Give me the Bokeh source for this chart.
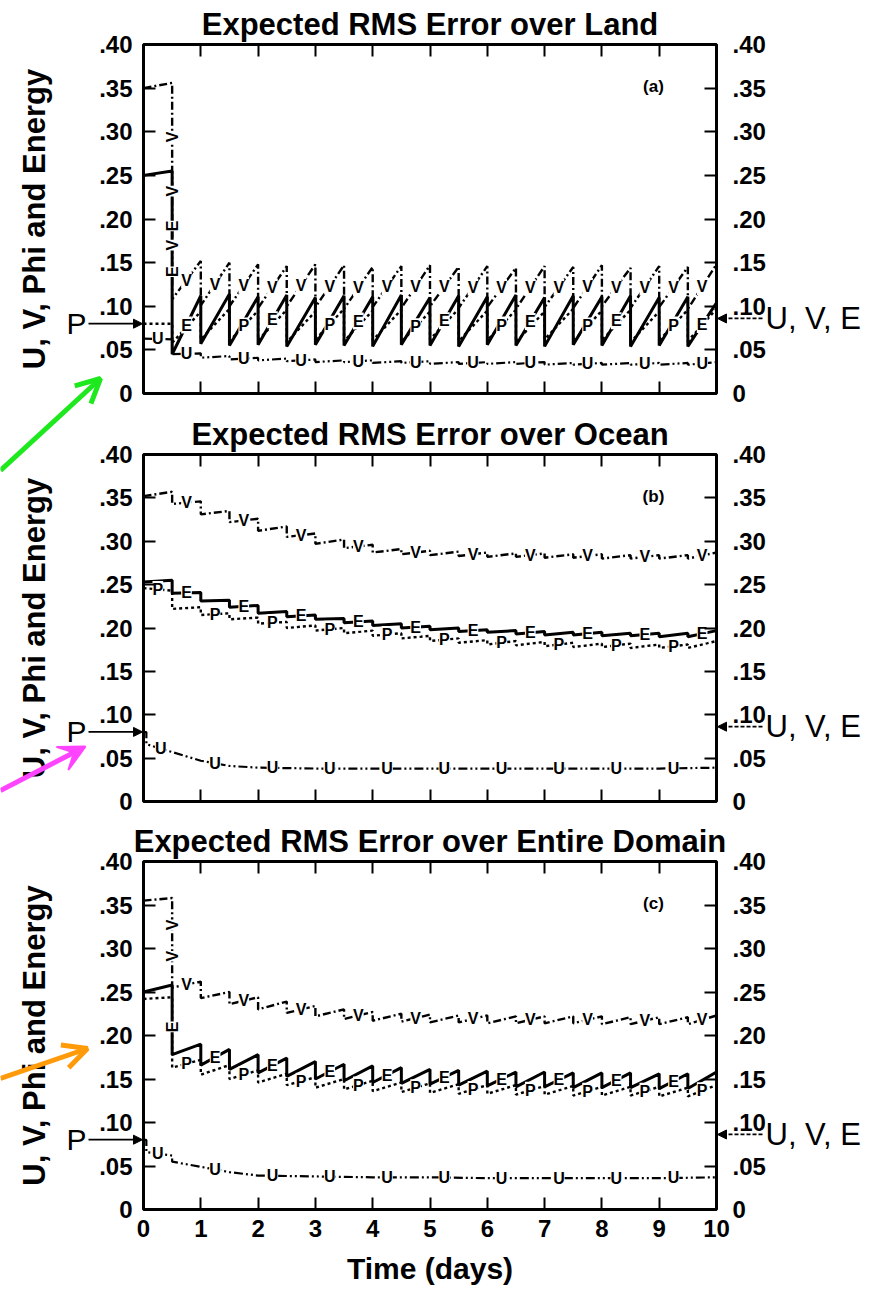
import numpy as np
from bokeh.plotting import figure
from bokeh.models import (Range1d, LinearAxis, FixedTicker, CustomJSTickFormatter,
                          Label, Arrow, NormalHead, OpenHead, VeeHead)
from bokeh.layouts import column
from bokeh.embed import file_html
from bokeh.resources import INLINE
from bokeh.core.properties import value

FONT = "Liberation Sans"

# ---------------- data ----------------
UPDATE_DAYS = [0.5, 1.0, 1.5, 2.0, 2.5, 3.0, 3.5, 4.0, 4.5, 5.0,
               5.5, 6.0, 6.5, 7.0, 7.5, 8.0, 8.5, 9.0, 9.5, 10.0]
X_TICKS = [0, 1, 2, 3, 4, 5, 6, 7, 8, 9, 10]
Y_TICKS = [0.0, 0.05, 0.10, 0.15, 0.20, 0.25, 0.30, 0.35, 0.40]
Y_MAX = 0.40

P_ARROW_LEVEL = 0.080     # "P" marker on left axis
UVE_ARROW_LEVEL = 0.086   # "U, V, E" marker on right axis

# (a) Land
LAND_V_START = 0.350
LAND_V_BEFORE = [0.356, 0.152, 0.150, 0.148, 0.146, 0.148, 0.147, 0.145, 0.146, 0.147,
                 0.145, 0.146, 0.144, 0.146, 0.145, 0.147, 0.144, 0.146, 0.145, 0.148]
LAND_V_AFTER = [0.108, 0.101, 0.100, 0.098, 0.100, 0.099, 0.097, 0.099, 0.098, 0.100,
                0.098, 0.099, 0.097, 0.099, 0.098, 0.100, 0.098, 0.099, 0.097]
LAND_E_START = 0.250
LAND_E_BEFORE = [0.255, 0.112, 0.114, 0.111, 0.113, 0.110, 0.112, 0.111, 0.113, 0.110,
                 0.112, 0.111, 0.113, 0.110, 0.112, 0.111, 0.112, 0.110, 0.111, 0.104]
LAND_E_AFTER = [0.045, 0.057, 0.055, 0.056, 0.054, 0.056, 0.055, 0.054, 0.056, 0.055,
                0.054, 0.056, 0.055, 0.054, 0.056, 0.055, 0.054, 0.055, 0.054]
LAND_P_START = 0.080
LAND_P_BEFORE = [0.080, 0.094, 0.097, 0.095, 0.096, 0.094, 0.097, 0.095, 0.096, 0.094,
                 0.097, 0.095, 0.096, 0.094, 0.097, 0.095, 0.096, 0.094, 0.096, 0.097]
LAND_P_AFTER = [0.058, 0.062, 0.060, 0.061, 0.059, 0.062, 0.060, 0.061, 0.059, 0.062,
                0.060, 0.061, 0.059, 0.062, 0.060, 0.061, 0.059, 0.061, 0.060]
LAND_U_START = 0.063
LAND_U_BEFORE = [0.062, 0.046, 0.043, 0.041, 0.040, 0.039, 0.038, 0.038, 0.037, 0.037,
                 0.036, 0.036, 0.036, 0.036, 0.035, 0.035, 0.035, 0.035, 0.035, 0.036]
LAND_U_AFTER = [0.045, 0.041, 0.039, 0.038, 0.037, 0.036, 0.036, 0.035, 0.035, 0.034,
                0.034, 0.034, 0.034, 0.033, 0.033, 0.033, 0.033, 0.033, 0.033]

# (b) Ocean
OCEAN_V_START = 0.352
OCEAN_V_BEFORE = [0.357, 0.346, 0.335, 0.326, 0.317, 0.309, 0.302, 0.296, 0.291, 0.289,
                  0.288, 0.287, 0.286, 0.286, 0.285, 0.285, 0.284, 0.284, 0.284, 0.287]
OCEAN_V_AFTER = [0.343, 0.331, 0.322, 0.312, 0.305, 0.297, 0.292, 0.287, 0.285, 0.284,
                 0.283, 0.282, 0.282, 0.281, 0.281, 0.280, 0.280, 0.280, 0.280]
OCEAN_E_START = 0.253
OCEAN_E_BEFORE = [0.255, 0.241, 0.232, 0.226, 0.219, 0.215, 0.211, 0.208, 0.205, 0.202,
                  0.200, 0.198, 0.197, 0.196, 0.195, 0.195, 0.194, 0.194, 0.194, 0.197]
OCEAN_E_AFTER = [0.240, 0.231, 0.224, 0.217, 0.213, 0.210, 0.206, 0.203, 0.200, 0.198,
                 0.196, 0.195, 0.193, 0.192, 0.192, 0.191, 0.191, 0.190, 0.190]
OCEAN_P_START = 0.246
OCEAN_P_BEFORE = [0.243, 0.224, 0.217, 0.212, 0.207, 0.203, 0.200, 0.197, 0.194, 0.191,
                  0.188, 0.186, 0.185, 0.184, 0.183, 0.182, 0.182, 0.181, 0.181, 0.185]
OCEAN_P_AFTER = [0.222, 0.215, 0.210, 0.205, 0.200, 0.197, 0.194, 0.191, 0.188, 0.185,
                 0.183, 0.181, 0.180, 0.179, 0.178, 0.178, 0.177, 0.177, 0.177]
OCEAN_U_T = [0.0, 0.05, 0.05, 0.5, 1.0, 1.5, 2.0, 3.0, 4.0, 5.0, 6.0, 7.0, 8.0, 9.0, 10.0]
OCEAN_U_V = [0.080, 0.080, 0.066, 0.057, 0.047, 0.041, 0.039, 0.038, 0.038, 0.038,
             0.038, 0.038, 0.038, 0.038, 0.039]

# (c) Entire domain
DOMAIN_V_START = 0.355
DOMAIN_V_BEFORE = [0.358, 0.262, 0.250, 0.244, 0.239, 0.234, 0.230, 0.227, 0.225, 0.224,
                   0.223, 0.223, 0.222, 0.222, 0.222, 0.222, 0.221, 0.221, 0.221, 0.223]
DOMAIN_V_AFTER = [0.255, 0.243, 0.236, 0.230, 0.226, 0.222, 0.219, 0.217, 0.216, 0.215,
                  0.215, 0.214, 0.214, 0.214, 0.214, 0.213, 0.213, 0.213, 0.213]
DOMAIN_E_START = 0.250
DOMAIN_E_BEFORE = [0.258, 0.190, 0.184, 0.178, 0.174, 0.170, 0.167, 0.165, 0.163, 0.161,
                   0.160, 0.159, 0.158, 0.158, 0.157, 0.157, 0.157, 0.156, 0.156, 0.158]
DOMAIN_E_AFTER = [0.178, 0.166, 0.161, 0.157, 0.153, 0.150, 0.148, 0.146, 0.145, 0.144,
                  0.143, 0.142, 0.141, 0.141, 0.140, 0.140, 0.140, 0.139, 0.139]
DOMAIN_P_START = 0.242
DOMAIN_P_BEFORE = [0.244, 0.172, 0.166, 0.160, 0.156, 0.152, 0.150, 0.148, 0.146, 0.145,
                   0.144, 0.143, 0.143, 0.142, 0.142, 0.141, 0.141, 0.141, 0.140, 0.143]
DOMAIN_P_AFTER = [0.163, 0.155, 0.150, 0.146, 0.143, 0.140, 0.138, 0.136, 0.135, 0.134,
                  0.133, 0.133, 0.132, 0.132, 0.131, 0.131, 0.131, 0.130, 0.130]
DOMAIN_U_T = [0.0, 0.05, 0.05, 0.5, 0.5, 1.0, 1.5, 2.0, 3.0, 4.0, 5.0, 6.0, 7.0, 8.0, 9.0, 10.0]
DOMAIN_U_V = [0.080, 0.080, 0.066, 0.062, 0.055, 0.049, 0.043, 0.039, 0.038, 0.037,
              0.037, 0.036, 0.036, 0.036, 0.036, 0.037]

# ---------------- layout constants (pixels) ----------------
PAGE_W, PAGE_H = 894, 1293
FRAME_LEFT, FRAME_W = 143, 573
FIG_HEIGHTS = [412, 407, 474]
BORDER_TOPS = [44, 41, 41]
FRAME_HEIGHTS = [349, 348, 349]

# ---------------- helpers ----------------
def sawtooth(start, before, after):
    t, v = [0.0], [start]
    for i, day in enumerate(UPDATE_DAYS):
        t.append(day)
        v.append(before[i])
        if i < len(after):
            t.append(day)
            v.append(after[i])
    return t, v


MIDS = [(a + b) / 2 for a, b in zip(UPDATE_DAYS[:-1], UPDATE_DAYS[1:])]

STYLES = {
    "V": dict(line_dash="8 3 2 3", line_width=2.4),
    "E": dict(line_dash="solid", line_width=3.0),
    "P": dict(line_dash="3 3", line_width=2.4),
    "U": dict(line_dash="9 3 2 3 2 3", line_width=2.2),
}

YFMT = "return tick < 0.001 ? '0' : tick.toFixed(2).substring(1);"


def style_axis(ax, show_labels, standoff):
    ax.axis_line_color = None
    ax.major_tick_in = 12
    ax.major_tick_out = 0
    ax.major_tick_line_width = 2
    ax.major_tick_line_color = "black"
    ax.minor_tick_line_color = None
    ax.major_label_text_font = FONT
    ax.major_label_text_font_style = "bold"
    ax.major_label_standoff = standoff
    if show_labels:
        ax.major_label_text_font_size = "24px"
        ax.major_label_text_color = "black"
    else:
        ax.major_label_text_font_size = "1px"
        ax.major_label_text_color = None


def add_letters(p, t, v, times, letter):
    ys = np.interp(times, t, v)
    p.text(x=list(times), y=list(ys), text=[letter] * len(times),
           text_font=value(FONT), text_font_style="bold", text_font_size="16px",
           text_align="center", text_baseline="middle", text_color="black",
           background_fill_color="white")


def add_drop_letters(p, day, top, bottom, fracs, letter):
    ys = [top - f * (top - bottom) for f in fracs]
    p.text(x=[day] * len(ys), y=ys, text=[letter] * len(ys),
           text_font=value(FONT), text_font_style="bold", text_font_size="16px",
           text_align="center", text_baseline="middle", text_color="black",
           angle=np.pi / 2, background_fill_color="white")


def make_panel(idx, title, tag, curves, letters, x_labels):
    height = FIG_HEIGHTS[idx]
    top = BORDER_TOPS[idx]
    bottom = height - top - FRAME_HEIGHTS[idx]
    p = figure(width=PAGE_W, height=height, x_range=Range1d(0, 10), y_range=Range1d(0, Y_MAX),
               output_backend="svg", toolbar_location=None,
               min_border_left=FRAME_LEFT, min_border_right=PAGE_W - FRAME_LEFT - FRAME_W,
               min_border_top=top, min_border_bottom=bottom)
    p.xgrid.visible = False
    p.ygrid.visible = False
    p.outline_line_color = "black"
    p.outline_line_width = 3
    p.outline_line_alpha = 1.0
    p.background_fill_color = "white"
    p.border_fill_color = "white"

    p.title.text = title
    p.title.align = "center"
    p.title.text_font = FONT
    p.title.text_font_style = "bold"
    p.title.text_font_size = "31px"
    p.title.text_color = "black"
    p.title.standoff = 5

    # axes
    bx = p.below[0]
    bx.ticker = FixedTicker(ticks=X_TICKS)
    style_axis(bx, x_labels, 10)
    ly = p.left[0]
    ly.ticker = FixedTicker(ticks=Y_TICKS)
    ly.formatter = CustomJSTickFormatter(code=YFMT)
    style_axis(ly, True, 11)
    ly.axis_label = "U, V, Phi and Energy"
    ly.axis_label_text_font = FONT
    ly.axis_label_text_font_style = "bold"
    ly.axis_label_text_font_size = "31px"
    ly.axis_label_text_color = "black"
    ly.axis_label_standoff = 44
    ry = LinearAxis(ticker=FixedTicker(ticks=Y_TICKS), formatter=CustomJSTickFormatter(code=YFMT))
    style_axis(ry, True, 16)
    p.add_layout(ry, "right")
    tx = LinearAxis(ticker=FixedTicker(ticks=X_TICKS))
    style_axis(tx, False, 0)
    p.add_layout(tx, "above")
    if x_labels:
        bx.axis_label = "Time (days)"
        bx.axis_label_text_font = FONT
        bx.axis_label_text_font_style = "bold"
        bx.axis_label_text_font_size = "30px"
        bx.axis_label_text_color = "black"
        bx.axis_label_standoff = 12

    # curves
    for name, (t, v) in curves.items():
        p.line(t, v, line_color="black", **STYLES[name])
    for name, times in letters.items():
        t, v = curves[name]
        add_letters(p, t, v, times, name)

    p.add_layout(Label(x=8.9, y=0.352, text=tag, text_align="center", text_baseline="middle",
                       text_font=FONT, text_font_style="bold", text_font_size="17px",
                       text_color="black"))
    return p


# ---------------- panel (a) ----------------
land = {
    "V": sawtooth(LAND_V_START, LAND_V_BEFORE, LAND_V_AFTER),
    "E": sawtooth(LAND_E_START, LAND_E_BEFORE, LAND_E_AFTER),
    "P": sawtooth(LAND_P_START, LAND_P_BEFORE, LAND_P_AFTER),
    "U": sawtooth(LAND_U_START, LAND_U_BEFORE, LAND_U_AFTER),
}
land_letters = {"V": MIDS[0::1], "E": MIDS[0::3], "P": MIDS[2::3], "U": [0.25] + MIDS[0::2]}
pa = make_panel(0, "Expected RMS Error over Land", "(a)", land, land_letters, False)
add_drop_letters(pa, UPDATE_DAYS[0], LAND_V_BEFORE[0], LAND_V_AFTER[0], [0.25, 0.5, 0.75], "V")
add_drop_letters(pa, UPDATE_DAYS[0], LAND_E_BEFORE[0], LAND_E_AFTER[0], [0.3, 0.55], "E")

# ---------------- panel (b) ----------------
ocean = {
    "V": sawtooth(OCEAN_V_START, OCEAN_V_BEFORE, OCEAN_V_AFTER),
    "E": sawtooth(OCEAN_E_START, OCEAN_E_BEFORE, OCEAN_E_AFTER),
    "P": sawtooth(OCEAN_P_START, OCEAN_P_BEFORE, OCEAN_P_AFTER),
    "U": (OCEAN_U_T, OCEAN_U_V),
}
ocean_letters = {"V": MIDS[0::2], "E": MIDS[0::2], "P": [0.25] + MIDS[1::2],
                 "U": [0.3] + MIDS[1::2]}
pb = make_panel(1, "Expected RMS Error over Ocean", "(b)", ocean, ocean_letters, False)

# ---------------- panel (c) ----------------
domain = {
    "V": sawtooth(DOMAIN_V_START, DOMAIN_V_BEFORE, DOMAIN_V_AFTER),
    "E": sawtooth(DOMAIN_E_START, DOMAIN_E_BEFORE, DOMAIN_E_AFTER),
    "P": sawtooth(DOMAIN_P_START, DOMAIN_P_BEFORE, DOMAIN_P_AFTER),
    "U": (DOMAIN_U_T, DOMAIN_U_V),
}
domain_letters = {"V": MIDS[0::2], "E": MIDS[1::2], "P": MIDS[0::2],
                  "U": [0.25] + MIDS[1::2]}
pc = make_panel(2, "Expected RMS Error over Entire Domain", "(c)", domain, domain_letters, True)
add_drop_letters(pc, UPDATE_DAYS[0], DOMAIN_V_BEFORE[0], DOMAIN_V_AFTER[0], [0.3, 0.65], "V")
add_drop_letters(pc, UPDATE_DAYS[0], DOMAIN_E_BEFORE[0], DOMAIN_E_AFTER[0], [0.6], "E")

# ---------------- overlay for marks that lie outside the plot frames ----------------
ov = figure(width=PAGE_W, height=PAGE_H, x_range=Range1d(0, PAGE_W), y_range=Range1d(PAGE_H, 0),
            output_backend="svg", toolbar_location=None, min_border=0,
            x_axis_location=None, y_axis_location=None,
            styles={"position": "absolute", "left": "0px", "top": "0px"})
ov.grid.visible = False
ov.outline_line_color = None
ov.background_fill_color = None
ov.border_fill_color = None

fig_top = 0
for i in range(3):
    frame_top = fig_top + BORDER_TOPS[i]
    y_p = frame_top + (Y_MAX - P_ARROW_LEVEL) / Y_MAX * FRAME_HEIGHTS[i]
    y_u = frame_top + (Y_MAX - UVE_ARROW_LEVEL) / Y_MAX * FRAME_HEIGHTS[i]
    right = FRAME_LEFT + FRAME_W
    ov.add_layout(Arrow(x_start=FRAME_LEFT - 55, y_start=y_p, x_end=FRAME_LEFT - 1, y_end=y_p,
                        line_width=1.8, line_color="black",
                        end=NormalHead(size=9, fill_color="black", line_color="black")))
    ov.add_layout(Label(x=FRAME_LEFT - 67, y=y_p, text="P", text_align="center",
                        text_baseline="middle", text_font=FONT, text_font_size="30px",
                        text_color="black"))
    ov.add_layout(Arrow(x_start=right + 46, y_start=y_u, x_end=right + 1, y_end=y_u,
                        line_width=1.8, line_color="black", line_dash="4 2",
                        end=NormalHead(size=9, fill_color="black", line_color="black")))
    ov.add_layout(Label(x=right + 49, y=y_u, text="U, V, E", text_align="left",
                        text_baseline="middle", text_font=FONT, text_font_size="31px",
                        text_color="black"))
    fig_top += FIG_HEIGHTS[i]

# coloured pointer arrows (page pixels)
POINTERS = [
    (0, 470, 100, 378, "#1ee81e", "open"),
    (0, 790, 85, 746, "#ff44ff", "vee"),
    (0, 1078, 87, 1048, "#ff9a0a", "open"),
]
for (x0, y0, x1, y1, color, head) in POINTERS:
    if head == "open":
        h = OpenHead(line_color=color, line_width=5, size=24)
    else:
        h = VeeHead(line_color=color, fill_color=color, line_width=2, size=26)
    ov.add_layout(Arrow(x_start=x0, y_start=y0, x_end=x1, y_end=y1, line_color=color,
                        line_width=5, end=h))

layout = column(pa, pb, pc, spacing=0)
open("out.html", "w").write(file_html([layout, ov], INLINE))
